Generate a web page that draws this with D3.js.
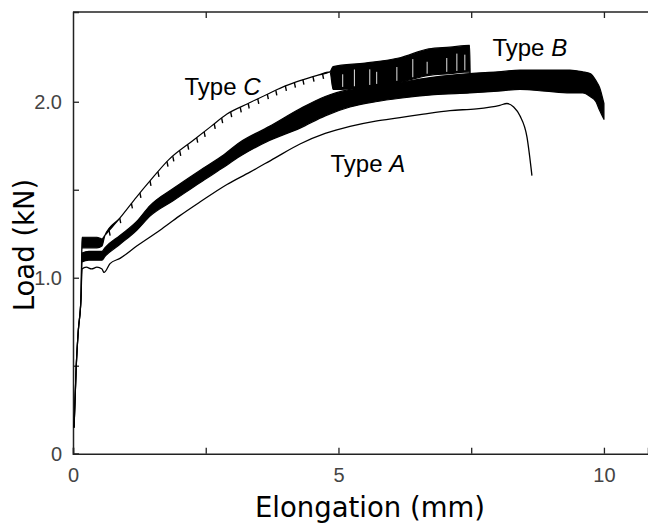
<!DOCTYPE html>
<html><head><meta charset="utf-8">
<script src="https://cdn.jsdelivr.net/npm/d3@7"></script>
<style>body{margin:0;background:#fff}svg{display:block}</style>
</head><body><svg id="c" width="648" height="523"></svg>
<script>
// ---- data ----
const xTicks = [0, 2.5, 5, 7.5, 10];
const xTickLabels = ["0", "", "5", "", "10"];
const yTicks = [0, 0.5, 1.0, 1.5, 2.0];
const yTickLabels = ["0", "", "1.0", "", "2.0"];

// Type A (thin line)
const aX = [0.02,0.06,0.10,0.15,0.17,0.25,0.35,0.45,0.546,0.584,0.697,0.885,1.2,1.638,2.0,2.39,2.9,3.333,3.8,4.275,4.75,5.217,5.7,6.158,6.6,7.1,7.6,8.04,8.173,8.3,8.418,8.55,8.644];
const aY = [0.15,0.49,0.70,0.88,1.05,1.06,1.05,1.06,1.05,1.03,1.08,1.11,1.18,1.27,1.35,1.43,1.53,1.60,1.68,1.76,1.82,1.86,1.89,1.91,1.93,1.95,1.96,1.98,1.99,1.97,1.92,1.80,1.58];

// Type B (thick band: lower / upper envelope)
const bX  = [0.02,0.06,0.10,0.15,0.17,0.3,0.45,0.546,0.60,0.885,1.2,1.45,1.9,2.39,2.8,3.145,3.7,4.275,4.75,5.217,5.7,6.158,6.8,7.476,8.0,8.418,8.9,9.36,9.6,9.74,9.85,9.92,10.0];
const bLo = [0.15,0.49,0.70,0.88,1.09,1.10,1.10,1.10,1.12,1.19,1.27,1.35,1.44,1.54,1.62,1.69,1.78,1.85,1.92,1.97,2.00,2.02,2.04,2.05,2.06,2.07,2.06,2.05,2.05,2.03,2.00,1.95,1.90];
const bHi = [0.15,0.49,0.70,0.88,1.14,1.15,1.15,1.15,1.17,1.24,1.32,1.41,1.51,1.61,1.69,1.77,1.86,1.96,2.03,2.07,2.09,2.11,2.14,2.16,2.17,2.18,2.18,2.18,2.17,2.16,2.12,2.08,1.99];

// Type C (thin line, plateau band, then wide serrated band)
const cX  = [0.02,0.06,0.10,0.15,0.17,0.3,0.45,0.546,0.60,0.885,1.2,1.45,1.8,2.26,2.6,2.9,3.3,3.71,4.0,4.275,4.6,4.84,4.9,5.5,6.158,6.7,7.1,7.47,7.48];
const cLo = [0.15,0.49,0.70,0.88,1.17,1.17,1.17,1.18,1.24,1.34,1.46,1.55,1.67,1.78,1.86,1.93,1.99,2.05,2.09,2.12,2.15,2.17,2.07,2.08,2.11,2.15,2.16,2.17,2.16];
const cHi = [0.15,0.49,0.70,0.88,1.23,1.23,1.23,1.22,1.24,1.34,1.46,1.55,1.67,1.78,1.86,1.93,1.99,2.05,2.09,2.12,2.15,2.17,2.20,2.22,2.25,2.30,2.31,2.32,2.16];
// small downward teeth along the C line, and white gaps inside the C band
const cTeethX = [0.68,0.88,1.1,1.26,1.45,1.6,1.77,1.88,2.01,2.16,2.33,2.47,2.66,2.8,2.97,3.15,3.3,3.48,3.66,3.82,4.0,4.17,4.33,4.52,4.7];
const cGapX = [5.08,5.3,5.59,5.72,6.1,6.4,6.67,7.04,7.23,7.38];
const cGapTop = [0.05,0.03,0.04,0.06,0.05,0.03,0.07,0.06,0.04,0.05];

const labels = [
  {type: "C", x: 2.1, y: 2.04},
  {type: "B", x: 7.9, y: 2.26},
  {type: "A", x: 4.85, y: 1.60}
];

// ---- drawing ----
const svg = d3.select("#c");
const x = d3.scaleLinear().domain([0, 10.83]).range([73, 648]);
const y = d3.scaleLinear().domain([0, 2.51]).range([453.7, 12]);

svg.append("line").attr("x1", 73).attr("x2", 648).attr("y1", y(2.51)).attr("y2", y(2.51)).attr("stroke", "#222").attr("stroke-width", 1.5);

const xAxis = svg.append("g").attr("transform", `translate(0,${y(0)})`)
  .call(d3.axisBottom(x).tickValues(xTicks).tickSize(-6).tickFormat((d,i) => xTickLabels[i]).tickPadding(14));
const xTop = svg.append("g").attr("transform", `translate(0,${y(2.51)})`)
  .call(d3.axisTop(x).tickValues(xTicks.slice(1)).tickSize(-6).tickFormat(""));
const yAxis = svg.append("g").attr("transform", `translate(${x(0)},0)`)
  .call(d3.axisLeft(y).tickValues(yTicks).tickSize(-6).tickFormat((d,i) => yTickLabels[i]).tickPadding(11));
[xAxis, xTop, yAxis].forEach(g => {
  g.select(".domain").attr("stroke", "#222").attr("stroke-width", 1.5);
  g.selectAll(".tick line").attr("stroke", "#222").attr("stroke-width", 1.3);
  g.selectAll("text").attr("font-family", "Liberation Sans, Arial, sans-serif").attr("font-size", 20).attr("fill", "#444");
});
xTop.select(".domain").remove();

const curve = d3.curveMonotoneX;
const area = d3.area().curve(curve).x(d => x(d[0])).y0(d => y(d[1])).y1(d => y(d[2]));
const line = d3.line().curve(curve).x(d => x(d[0])).y(d => y(d[1]));

svg.append("path").datum(bX.map((v,i) => [v, bLo[i], bHi[i]]))
  .attr("d", area).attr("fill", "#000").attr("stroke", "#000").attr("stroke-width", 1.2).attr("stroke-linejoin", "round");
svg.append("path").datum(cX.map((v,i) => [v, cLo[i], cHi[i]]))
  .attr("d", area).attr("fill", "#000").attr("stroke", "#000").attr("stroke-width", 1.2).attr("stroke-linejoin", "round");
svg.append("path").datum(aX.map((v,i) => [v, aY[i]]))
  .attr("d", line).attr("fill", "none").attr("stroke", "#000").attr("stroke-width", 1.3).attr("stroke-linejoin", "round");

// helper reading a series at a given elongation
const lerp = (xs, ys, v) => { const i = Math.max(1, d3.bisectLeft(xs, v)); const t = (v - xs[i-1]) / (xs[i] - xs[i-1]); return ys[i-1] + t * (ys[i] - ys[i-1]); };
svg.append("g").selectAll("line").data(cTeethX).join("line")
  .attr("x1", d => x(d)).attr("y1", d => y(lerp(cX, cLo, d)))
  .attr("x2", d => x(d) + 1).attr("y2", d => y(lerp(cX, cLo, d)) + 5)
  .attr("stroke", "#000").attr("stroke-width", 1.4);
svg.append("g").selectAll("line").data(cGapX).join("line")
  .attr("x1", d => x(d)).attr("y1", d => y(lerp(cX, cLo, d)) - 2)
  .attr("x2", d => x(d)).attr("y2", (d,i) => y(lerp(cX, cHi, d) - cGapTop[i]))
  .attr("stroke", "#fff").attr("stroke-width", 0.9);

labels.forEach(l => {
  const t = svg.append("text").attr("x", x(l.x)).attr("y", y(l.y))
    .attr("font-family", "Liberation Sans, Arial, sans-serif").attr("font-size", 24).attr("fill", "#000");
  t.append("tspan").text("Type ");
  t.append("tspan").attr("font-style", "italic").text(l.type);
});

svg.append("text").attr("x", 370).attr("y", 517).attr("text-anchor", "middle")
  .attr("font-family", "DejaVu Sans, sans-serif").attr("font-size", 27.5).attr("fill", "#000").text("Elongation (mm)");
svg.append("text").attr("transform", "translate(34,245) rotate(-90)").attr("text-anchor", "middle")
  .attr("font-family", "DejaVu Sans, sans-serif").attr("font-size", 27.5).attr("fill", "#000").text("Load (kN)");
</script></body></html>
